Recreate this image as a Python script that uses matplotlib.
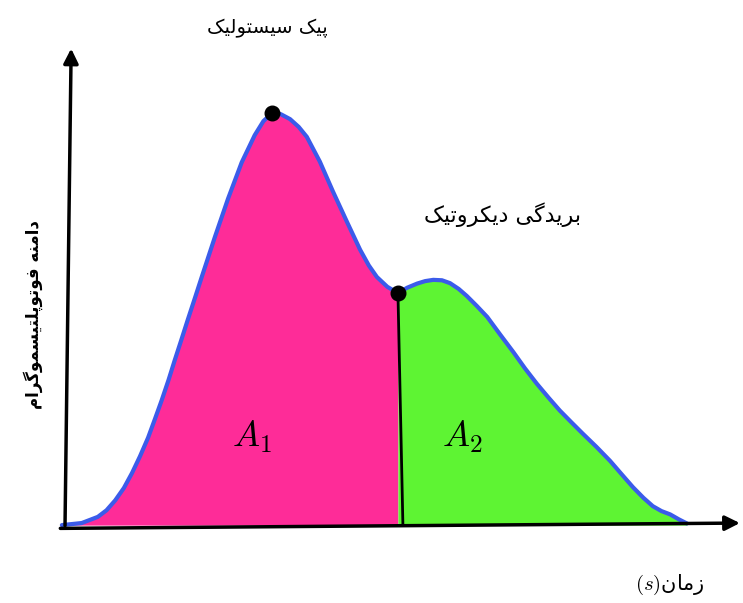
import numpy as np
import matplotlib
matplotlib.use('Agg')
import matplotlib.pyplot as plt

# منحنی PPG - مقادیر خوانده شده از تصویر (زمان نسبی، دامنه نرمال)
time = [-0.005, 0.027, 0.053, 0.067, 0.081, 0.095, 0.108, 0.121, 0.134, 0.145,
        0.156, 0.167, 0.177, 0.188, 0.198, 0.210, 0.221, 0.242, 0.263, 0.285,
        0.306, 0.320, 0.334, 0.348, 0.363, 0.377, 0.390, 0.411, 0.432, 0.455,
        0.476, 0.490, 0.503, 0.520, 0.537, 0.552, 0.568, 0.581, 0.594, 0.608,
        0.621, 0.635, 0.648, 0.664, 0.681, 0.702, 0.723, 0.742, 0.761, 0.780,
        0.798, 0.817, 0.835, 0.857, 0.879, 0.898, 0.916, 0.933, 0.948, 0.962,
        0.976, 0.990, 1.003]
amp = [0.000, 0.005, 0.020, 0.036, 0.060, 0.090, 0.126, 0.167, 0.212, 0.257,
       0.303, 0.352, 0.400, 0.451, 0.498, 0.553, 0.604, 0.700, 0.792, 0.880,
       0.946, 0.980, 1.000, 0.997, 0.985, 0.966, 0.942, 0.882, 0.810, 0.735,
       0.668, 0.630, 0.602, 0.578, 0.563, 0.576, 0.586, 0.592, 0.595, 0.594,
       0.587, 0.573, 0.556, 0.532, 0.505, 0.462, 0.420, 0.380, 0.343, 0.309,
       0.278, 0.249, 0.222, 0.190, 0.156, 0.123, 0.092, 0.066, 0.046, 0.034,
       0.026, 0.014, 0.004]
peak_t = 0.334
notch_t = 0.537

title_txt = 'پیک سیستولیک'
notch_txt = 'بریدگی دیکروتیک'
ylabel_txt = 'دامنه فوتوپلتیسموگرام'
xlabel_txt = 'زمان'

# شکل های حروف: تنها، پایانی، آغازی، میانی
FORMS = {
    'ا': ('\uFE8D', '\uFE8E', None, None),
    'ب': ('\uFE8F', '\uFE90', '\uFE91', '\uFE92'),
    'پ': ('\uFB56', '\uFB57', '\uFB58', '\uFB59'),
    'ت': ('\uFE95', '\uFE96', '\uFE97', '\uFE98'),
    'د': ('\uFEA9', '\uFEAA', None, None),
    'ر': ('\uFEAD', '\uFEAE', None, None),
    'ز': ('\uFEAF', '\uFEB0', None, None),
    'س': ('\uFEB1', '\uFEB2', '\uFEB3', '\uFEB4'),
    'ف': ('\uFED1', '\uFED2', '\uFED3', '\uFED4'),
    'ک': ('\uFB8E', '\uFB8F', '\uFB90', '\uFB91'),
    'گ': ('\uFB92', '\uFB93', '\uFB94', '\uFB95'),
    'ل': ('\uFEDD', '\uFEDE', '\uFEDF', '\uFEE0'),
    'م': ('\uFEE1', '\uFEE2', '\uFEE3', '\uFEE4'),
    'ن': ('\uFEE5', '\uFEE6', '\uFEE7', '\uFEE8'),
    'ه': ('\uFEE9', '\uFEEA', '\uFEEB', '\uFEEC'),
    'و': ('\uFEED', '\uFEEE', None, None),
    'ی': ('\uFBFC', '\uFBFD', '\uFBFE', '\uFBFF'),
}


def fa(s):
    out = []
    for i, ch in enumerate(s):
        if ch not in FORMS:
            out.append(ch)
            continue
        prev = s[i - 1] if i > 0 else ''
        nxt = s[i + 1] if i + 1 < len(s) else ''
        jp = prev in FORMS and FORMS[prev][2] is not None
        jn = nxt in FORMS and FORMS[ch][2] is not None
        iso, fin, ini, med = FORMS[ch]
        if jp and jn:
            out.append(med)
        elif jp:
            out.append(fin)
        elif jn:
            out.append(ini)
        else:
            out.append(iso)
    return ''.join(reversed(out))


plt.rcParams['font.family'] = ['DejaVu Sans']
plt.rcParams['mathtext.fontset'] = 'cm'

fig = plt.figure(figsize=(7.43, 6.03), dpi=100)
ax = fig.add_axes([0, 0, 1, 1])
ax.set_xlim(-0.1048, 1.0935)
ax.set_ylim(-0.189, 1.274)
ax.axis('off')

t = np.array(time)
a = np.array(amp)
ip = time.index(peak_t)
ino = time.index(notch_t)

ax.fill_between(t[:ino + 1], a[:ino + 1], 0, color='#fe2c98', lw=0)
ax.fill_between(t[ino:], a[ino:], 0, color='#5ef433', lw=0)
ax.plot(t, a, color='#3b5bea', lw=3, solid_capstyle='round', solid_joinstyle='round', zorder=3)
ax.plot([t[ino], t[ino] + 0.008], [a[ino], 0], color='black', lw=2, zorder=2)

# محورها با پیکان
ax.annotate('', xy=(1.093, 0.005), xytext=(-0.012, -0.008),
            arrowprops=dict(arrowstyle='-|>', color='black', lw=2.5, mutation_scale=22))
ax.annotate('', xy=(0.010, 1.163), xytext=(0.000, -0.008),
            arrowprops=dict(arrowstyle='-|>', color='black', lw=2.5, mutation_scale=22))

ax.scatter([t[ip], t[ino]], [a[ip], a[ino]], s=110, color='black', zorder=4)

ax.text(0.327, 1.205, fa(title_txt), fontsize=14, ha='center', va='center')
ax.text(0.706, 0.752, fa(notch_txt), fontsize=16, ha='center', va='center')
ax.text(-0.052, 0.51, fa(ylabel_txt), fontsize=12, fontweight='bold', rotation=90,
        ha='center', va='center')
ax.text(0.976, -0.146, '$(s)$' + fa(xlabel_txt), fontsize=15, ha='center', va='center')
ax.text(0.302, 0.214, '$A_1$', fontsize=26, ha='center', va='center')
ax.text(0.640, 0.214, '$A_2$', fontsize=26, ha='center', va='center')

plt.savefig('out.png', dpi=100)
